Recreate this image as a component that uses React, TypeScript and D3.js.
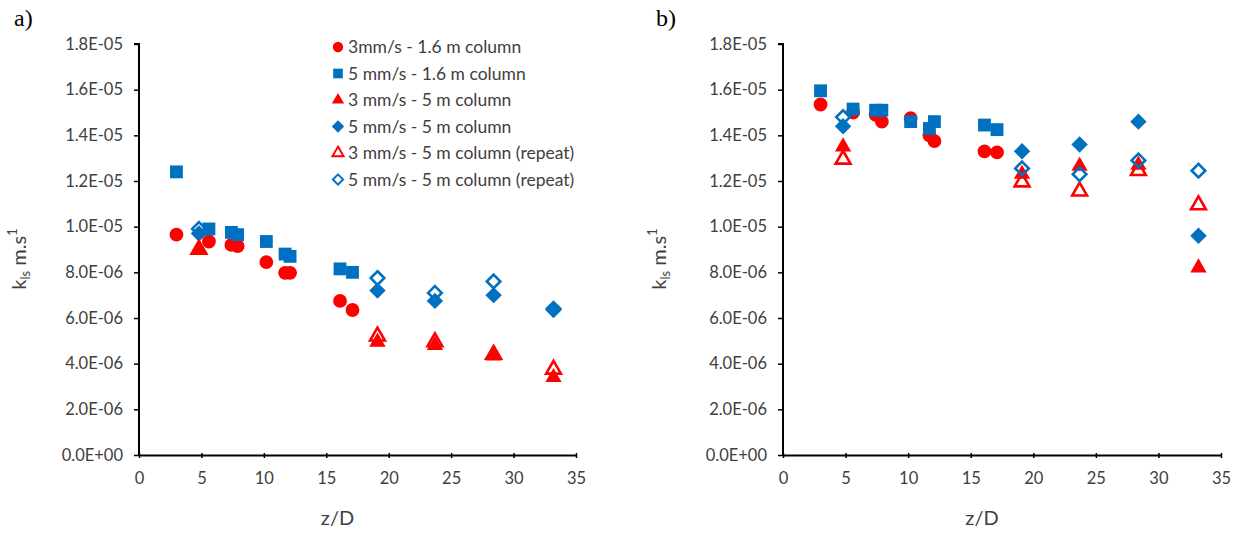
import React, { useEffect, useRef } from 'react'
import * as d3 from 'd3'

// z/D positions
const zShort = [3.0, 5.6, 7.4, 7.9, 10.2, 11.7, 12.1, 16.1, 17.1]
const zLong = [4.8, 19.1, 23.7, 28.4, 33.2]

// panel a) values in units of 1e-6 m/s
const a3mm16 = [9.65, 9.35, 9.2, 9.15, 8.45, 7.98, 7.98, 6.75, 6.35]
const a5mm16 = [12.4, 9.9, 9.75, 9.65, 9.35, 8.8, 8.7, 8.15, 8.0]
const a3mm5 = [9.0, 4.95, 4.8, 4.35, 3.4]
const a5mm5 = [9.7, 7.2, 6.75, 7.0, 6.35]
const a3mm5r = [9.0, 5.2, 4.95, 4.4, 3.75]
const a5mm5r = [9.9, 7.75, 7.1, 7.6, 6.4]

// panel b)
const b3mm16 = [15.35, 15.0, 14.9, 14.6, 14.75, 14.0, 13.75, 13.3, 13.25]
const b5mm16 = [15.95, 15.15, 15.1, 15.1, 14.6, 14.3, 14.6, 14.45, 14.25]
const b3mm5 = [13.5, 12.3, 12.65, 12.7, 8.2]
const b5mm5 = [14.4, 13.3, 13.6, 14.6, 9.6]
const b3mm5r = [12.95, 11.95, 11.55, 12.45, 10.95]
const b5mm5r = [14.8, 12.55, 12.3, 12.9, 12.45]

const seriesNames = [
  '3mm/s - 1.6 m column',
  '5 mm/s - 1.6 m column',
  '3 mm/s - 5 m column',
  '5 mm/s - 5 m column',
  '3 mm/s - 5 m column (repeat)',
  '5 mm/s - 5 m column (repeat)',
]
const yTickLabels = ['0.0E+00', '2.0E-06', '4.0E-06', '6.0E-06', '8.0E-06', '1.0E-05', '1.2E-05', '1.4E-05', '1.6E-05', '1.8E-05']

const RED = '#ff0000'
const BLUE = '#0070c0'
const FONT = 'Lato, "Open Sans", sans-serif'

// marker style per series: shape, colour, open?
const styles = [
  { shape: 'circle', color: RED, open: false },
  { shape: 'square', color: BLUE, open: false },
  { shape: 'triangle', color: RED, open: false },
  { shape: 'diamond', color: BLUE, open: false },
  { shape: 'triangle', color: RED, open: true },
  { shape: 'diamond', color: BLUE, open: true },
]

const symbolPath = (shape: string, open: boolean) => {
  if (shape === 'circle') return d3.symbol(d3.symbolCircle, 150)()
  if (shape === 'square') return d3.symbol(d3.symbolSquare, 165)()
  if (shape === 'triangle') return d3.symbol(d3.symbolTriangle, open ? 95 : 115)()
  // square rotated 45 deg, like Excel's diamond
  const s = open ? 6.8 : 8.2
  return `M0,${-s}L${s},0L0,${s}L${-s},0Z`
}

const App = () => {
  const svgRef = useRef<SVGSVGElement>(null)

  useEffect(() => {
    const svg = d3.select(svgRef.current)
    svg.selectAll('*').remove()

    const panels = [
      { label: 'a)', left: 139, right: 576, labelX: 14, titleX: 26, data: [a3mm16, a5mm16, a3mm5, a5mm5, a3mm5r, a5mm5r] },
      { label: 'b)', left: 783, right: 1221, labelX: 656, titleX: 666, data: [b3mm16, b5mm16, b3mm5, b5mm5, b3mm5r, b5mm5r] },
    ]
    const top = 44
    const bottom = 455

    panels.forEach((p) => {
      const x = d3.scaleLinear().domain([0, 35]).range([p.left, p.right])
      const y = d3.scaleLinear().domain([0, 18]).range([bottom, top])
      const g = svg.append('g')

      // y axis
      const yAxis = d3
        .axisLeft(y)
        .tickValues(d3.range(0, 19, 2))
        .tickSize(5)
        .tickFormat((d, i) => yTickLabels[i])
      const gy = g.append('g').attr('transform', `translate(${p.left},0)`).call(yAxis)
      gy.select('.domain').attr('stroke', '#000').attr('stroke-width', 2).attr('d', `M-5,${top}H0V${bottom}`)
      gy.selectAll('.tick line').attr('stroke', '#000').attr('stroke-width', 1.5)
      gy.selectAll('.tick text')
        .attr('x', -16)
        .attr('font-family', FONT)
        .attr('font-size', 16.5)
        .attr('fill', '#404040')

      // x axis
      const xAxis = d3.axisBottom(x).tickValues(d3.range(0, 36, 5)).tickSize(3).tickSizeOuter(0)
      const gx = g.append('g').attr('transform', `translate(0,${bottom})`).call(xAxis)
      gx.select('.domain').attr('stroke', '#000').attr('stroke-width', 2)
      gx.selectAll('.tick line').attr('stroke', '#000').attr('stroke-width', 1.5).attr('y1', -2)
      gx.selectAll('.tick text')
        .attr('y', 17)
        .attr('font-family', FONT)
        .attr('font-size', 16.5)
        .attr('fill', '#404040')

      // axis titles
      g.append('text')
        .attr('x', (p.left + p.right) / 2 - 20)
        .attr('y', 525)
        .attr('text-anchor', 'middle')
        .attr('font-family', FONT)
        .attr('font-size', 20)
        .attr('fill', '#404040')
        .text('z/D')

      const yt = g
        .append('text')
        .attr('transform', `translate(${p.titleX},259) rotate(-90)`)
        .attr('text-anchor', 'middle')
        .attr('font-family', FONT)
        .attr('font-size', 20)
        .attr('fill', '#404040')
      yt.append('tspan').text('k')
      yt.append('tspan').attr('font-size', 13).attr('dy', 4).text('ls')
      yt.append('tspan').attr('dy', -4).text(' m.s')
      yt.append('tspan').attr('font-size', 13).attr('dy', -9).text('1')

      // panel label
      g.append('text')
        .attr('x', p.labelX)
        .attr('y', 26)
        .attr('font-family', '"Liberation Serif", "DejaVu Serif", serif')
        .attr('font-size', 24)
        .attr('fill', '#000')
        .text(p.label)

      // points
      p.data.forEach((vals, si) => {
        const st = styles[si]
        const zs = si < 2 ? zShort : zLong
        g.append('g')
          .selectAll('path')
          .data(vals.map((v, i) => ({ z: zs[i], v })))
          .enter()
          .append('path')
          .attr('transform', (d) => `translate(${x(d.z)},${y(d.v)})`)
          .attr('d', symbolPath(st.shape, st.open))
          .attr('fill', st.open ? 'none' : st.color)
          .attr('stroke', st.color)
          .attr('stroke-width', st.open ? 2.6 : 0)
      })
    })

    // legend
    const legend = svg.append('g').attr('transform', 'translate(338,47)')
    seriesNames.forEach((name, i) => {
      const st = styles[i]
      const row = legend.append('g').attr('transform', `translate(0,${i * 26.5})`)
      const scale = 0.75
      row
        .append('path')
        .attr('transform', `scale(${scale})`)
        .attr('d', symbolPath(st.shape, st.open))
        .attr('fill', st.open ? 'none' : st.color)
        .attr('stroke', st.color)
        .attr('stroke-width', st.open ? 2.6 : 0)
      row
        .append('text')
        .attr('x', 10)
        .attr('y', 6)
        .attr('font-family', FONT)
        .attr('font-size', 17.5)
        .attr('fill', '#404040')
        .text(name)
    })
  }, [])

  return (
    <svg
      ref={svgRef}
      width={1244}
      height={533}
      style={{ position: 'absolute', left: 0, top: 0, background: '#fff' }}
    ></svg>
  )
}

export default App
